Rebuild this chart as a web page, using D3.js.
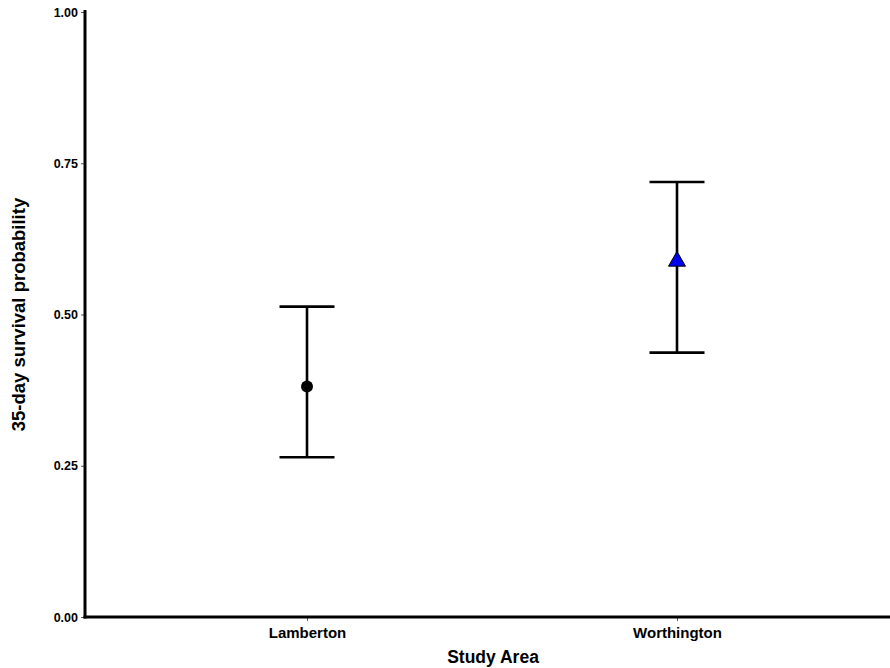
<!DOCTYPE html>
<html>
<head>
<meta charset="utf-8">
<script src="https://cdn.jsdelivr.net/npm/d3@7"></script>
<style>
  html, body { margin: 0; padding: 0; background: #fff; }
  svg { display: block; font-family: "Liberation Sans", Arial, sans-serif; }
</style>
</head>
<body>
<svg id="chart" width="890" height="668"></svg>
<script>
// Study areas and their 35-day survival estimates with confidence limits
const areas = ["Lamberton", "Worthington"];
const estimate = [0.381, 0.588];
const lower = [0.264, 0.437];
const upper = [0.513, 0.719];
const yTicks = [0, 0.25, 0.5, 0.75, 1.0];

const svg = d3.select("#chart");
const W = 890, H = 668;
const margin = { left: 85, right: 0, top: 12, bottom: 51 };

// Discrete x positions with 0.6-unit padding on each side
const x = d3.scaleLinear()
  .domain([0.4, 2.6])
  .range([margin.left, margin.left + 814]);
const xPos = d => x(areas.indexOf(d) + 1);

const y = d3.scaleLinear()
  .domain([0, 1])
  .range([H - margin.bottom, margin.top]);

const data = areas.map((a, i) => ({ area: a, est: estimate[i], lo: lower[i], hi: upper[i] }));

// Y axis
const yAxis = svg.append("g")
  .attr("transform", `translate(${margin.left},0)`)
  .call(d3.axisLeft(y).tickValues(yTicks).tickFormat(d3.format(".2f")).tickSize(4).tickPadding(3));
yAxis.select(".domain").remove();
yAxis.selectAll(".tick line").attr("stroke", "#555").attr("stroke-width", 1);
yAxis.selectAll(".tick text")
  .attr("fill", "#000").style("font-size", "12.5px").style("font-weight", "bold");

// X axis
const xAxis = svg.append("g")
  .attr("transform", `translate(0,${y(0)})`)
  .call(d3.axisBottom(d3.scalePoint().domain(areas).range([xPos(areas[0]), xPos(areas[1])]))
    .tickSize(4).tickPadding(6));
xAxis.select(".domain").remove();
xAxis.selectAll(".tick line").attr("stroke", "#555").attr("stroke-width", 1);
xAxis.selectAll(".tick text")
  .attr("fill", "#000").style("font-size", "15px").style("font-weight", "bold");

// Axis lines
svg.append("line")
  .attr("x1", margin.left).attr("x2", margin.left)
  .attr("y1", y(1) - 2).attr("y2", y(0) + 1.5)
  .attr("stroke", "#000").attr("stroke-width", 3);
svg.append("line")
  .attr("x1", margin.left - 1.5).attr("x2", W)
  .attr("y1", y(0)).attr("y2", y(0))
  .attr("stroke", "#000").attr("stroke-width", 3);

// Error bars
const capHalf = 27.5;
const bars = svg.append("g").attr("stroke", "#000").attr("stroke-width", 2.6);
data.forEach(d => {
  const cx = xPos(d.area);
  bars.append("line").attr("x1", cx).attr("x2", cx).attr("y1", y(d.lo)).attr("y2", y(d.hi));
  bars.append("line").attr("x1", cx - capHalf).attr("x2", cx + capHalf).attr("y1", y(d.lo)).attr("y2", y(d.lo));
  bars.append("line").attr("x1", cx - capHalf).attr("x2", cx + capHalf).attr("y1", y(d.hi)).attr("y2", y(d.hi));
});

// Point estimates: circle for Lamberton, triangle for Worthington
svg.append("circle")
  .attr("cx", xPos(data[0].area)).attr("cy", y(data[0].est))
  .attr("r", 6).attr("fill", "#000");
svg.append("path")
  .attr("d", d3.symbol().type(d3.symbolTriangle).size(125))
  .attr("transform", `translate(${xPos(data[1].area)},${y(data[1].est)})`)
  .attr("fill", "#0000ee").attr("stroke", "#000").attr("stroke-width", 1);

// Axis titles
svg.append("text")
  .attr("x", 493).attr("y", 663)
  .attr("text-anchor", "middle")
  .style("font-size", "17.5px").style("font-weight", "bold")
  .text("Study Area");
svg.append("text")
  .attr("transform", `translate(25,${y(0.5)}) rotate(-90)`)
  .attr("text-anchor", "middle")
  .style("font-size", "18.5px").style("font-weight", "bold")
  .text("35-day survival probability");
</script>
</body>
</html>
